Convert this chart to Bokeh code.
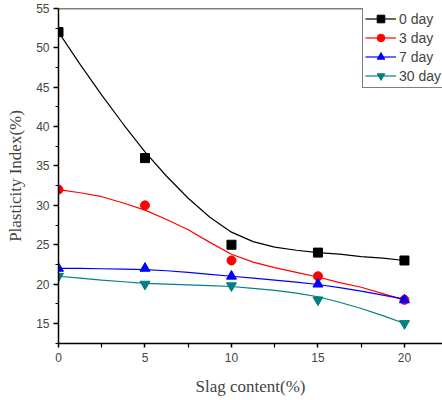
from bokeh.plotting import figure
from bokeh.models import Span, Legend, LegendItem, FixedTicker
from bokeh.embed import file_html
from bokeh.resources import INLINE

# measured points
slag = [0, 5, 10, 15, 20]
day0 = [52, 36, 25, 24, 23]
day3 = [32, 30, 23, 21, 18]
day7 = [22, 22, 21, 20, 18]
day30 = [21, 20, 19.8, 18, 15]

# fitted curves
xc = [0, 1.25, 2.5, 3.75, 5, 6.25, 7.5, 8.75, 10, 11.25, 12.5, 13.75, 15, 16.25, 17.5, 18.75, 20]
fit0 = [52, 47.9, 44.0, 40.3, 36.8, 33.7, 30.9, 28.5, 26.6, 25.4, 24.7, 24.3, 24.0, 23.8, 23.5, 23.3, 23.0]
fit3 = [32.0, 31.6, 31.1, 30.3, 29.4, 28.2, 26.9, 25.3, 23.8, 22.8, 22.1, 21.5, 20.9, 20.2, 19.6, 18.8, 18.0]
fit7 = [22.0, 22.0, 21.95, 21.9, 21.85, 21.7, 21.5, 21.25, 21.0, 20.75, 20.5, 20.25, 19.95, 19.55, 19.1, 18.6, 18.1]
fit30 = [21.0, 20.75, 20.5, 20.3, 20.1, 20.0, 19.9, 19.8, 19.7, 19.45, 19.2, 18.85, 18.4, 17.7, 16.9, 16.0, 15.0]

labels = ["0 day", "3 day", "7 day", "30 day"]
x_ticks = [0, 5, 10, 15, 20]
y_ticks = [15, 20, 25, 30, 35, 40, 45, 50, 55]

p = figure(width=442, height=400, output_backend="svg", toolbar_location=None,
           x_range=(0, 22.2), y_range=(12.46, 55),
           min_border_left=58, min_border_right=0, min_border_top=8, min_border_bottom=57)
p.grid.visible = False
p.outline_line_color = None
p.background_fill_color = "white"
p.border_fill_color = "white"

series = [
    (day0, fit0, "black", "square", 9),
    (day3, fit3, "#FF0000", "circle", 9),
    (day7, fit7, "#0000FF", "triangle", 10),
    (day30, fit30, "#008080", "inverted_triangle", 10),
]
items = []
for (pts, fit, col, mk, sz), lab in zip(series, labels):
    ln = p.line(xc, fit, line_color=col, line_width=1.2)
    sc = p.scatter(slag, pts, marker=mk, size=sz, fill_color=col, line_color=col)
    items.append(LegendItem(label=lab, renderers=[ln, sc]))

p.add_layout(Span(location=55, dimension="width", line_color="black", line_width=1.5))

legend = Legend(items=items, location=(304, 255), border_line_color="black", border_line_width=1,
                background_fill_color="white", background_fill_alpha=1.0,
                label_text_font="Liberation Sans", label_text_font_size="14px",
                glyph_width=31, glyph_height=19, label_height=19, label_standoff=3,
                spacing=0, padding=2, margin=0)
p.add_layout(legend, "center")

for ax in (p.xaxis[0], p.yaxis[0]):
    ax.axis_line_width = 1.5
    ax.major_tick_line_width = 1.5
    ax.minor_tick_line_width = 1.2
    ax.major_tick_in = 0
    ax.minor_tick_in = 0
    ax.major_label_text_font = "Liberation Sans"
    ax.major_label_text_font_size = "12px"
    ax.axis_label_text_font = "Liberation Serif"
    ax.axis_label_text_font_size = "17px"
    ax.axis_label_text_font_style = "normal"

p.xaxis.ticker = FixedTicker(ticks=x_ticks, minor_ticks=[2.5, 7.5, 12.5, 17.5])
p.yaxis.ticker = FixedTicker(ticks=y_ticks, minor_ticks=[12.5, 17.5, 22.5, 27.5, 32.5, 37.5, 42.5, 47.5, 52.5])
p.xaxis.major_tick_out = 4
p.xaxis.minor_tick_out = 4
p.yaxis.major_tick_out = 5
p.yaxis.minor_tick_out = 3
p.xaxis.major_label_standoff = 5
p.yaxis.major_label_standoff = 4
p.xaxis.axis_label = "Slag content(%)"
p.yaxis.axis_label = "Plasticity Index(%)"
p.xaxis.axis_label_standoff = 12
p.yaxis.axis_label_standoff = 8

open("out.html", "w").write(file_html(p, INLINE))
